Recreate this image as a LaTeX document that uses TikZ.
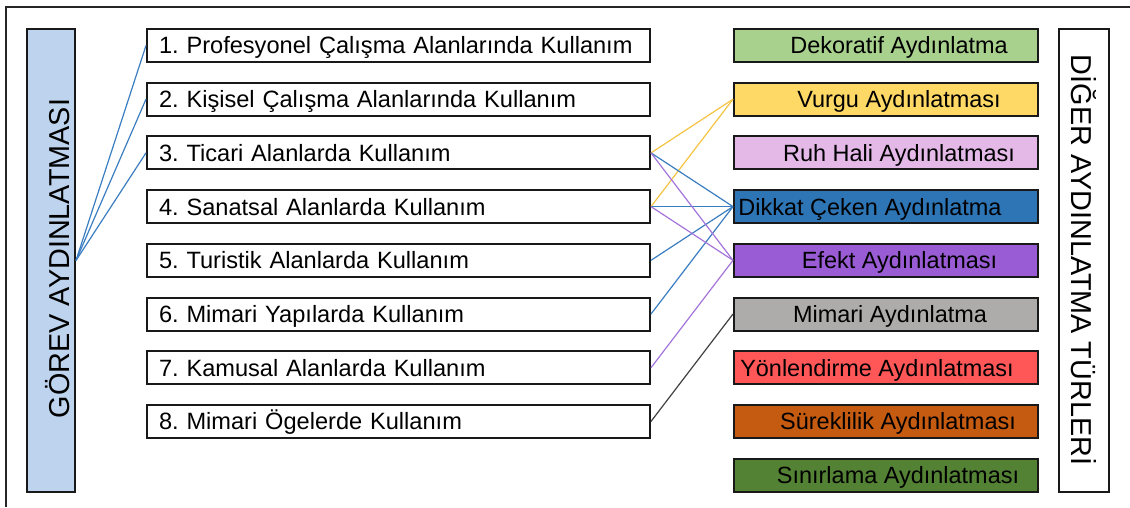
\documentclass[tikz,border=0pt]{standalone}
\usepackage{fontspec}
\setmainfont{Liberation Sans}
\usepackage{xcolor}
\usetikzlibrary{arrows.meta, positioning, calc}
\frenchspacing

\definecolor{gorevblue}{HTML}{BDD3EE}
\definecolor{dekorgreen}{HTML}{A9D18E}
\definecolor{vurguyellow}{HTML}{FFD966}
\definecolor{ruhpink}{HTML}{E4B9E8}
\definecolor{dikkatblue}{HTML}{2E75B6}
\definecolor{efektpurple}{HTML}{9A5CD4}
\definecolor{mimarigray}{HTML}{AEABAB}
\definecolor{yonred}{HTML}{FF5757}
\definecolor{surekorange}{HTML}{C55A11}
\definecolor{sinirgreen}{HTML}{548235}
\definecolor{lineblue}{HTML}{3A7DC0}
\definecolor{lineyellow}{HTML}{F5C342}
\definecolor{linepurple}{HTML}{A374DA}
\definecolor{linegray}{HTML}{404040}

\tikzset{
  boxline/.style={draw=black!90, line width=1.5pt},
  usebox/.style={boxline, minimum width=377.25pt, minimum height=24.75pt, inner xsep=9pt, inner ysep=0pt,
    text width=359.25pt, align=left, font=\fontsize{17.7}{20}\selectfont, text height=12.6pt, text depth=0pt},
  turbox/.style={boxline, minimum width=228pt, minimum height=24.75pt, inner sep=0pt},
  turtext/.style={inner sep=0pt, font=\fontsize{17.6}{20}\selectfont, text height=12.6pt, text depth=0pt},
  titlebox/.style={boxline, minimum width=36pt, minimum height=347.25pt, inner sep=0pt},
  titletext/.style={inner sep=0pt, font=\fontsize{21.6}{24}\selectfont, text height=15.5pt, text depth=0pt},
  link/.style={line width=0.9pt}
}

\begin{document}
\begin{tikzpicture}[x=0.75pt, y=-0.75pt]
\useasboundingbox (0,0) rectangle (1130,507);

% Frame
\draw[black!85, line width=1.5pt] (1130,7) -- (6,7) -- (6,507);

% Title boxes
\node[titlebox, fill=gorevblue] (gorev) at (51,260.5) {};
\node[titletext, rotate=90] (gorevlabel) at (59,258.5) {GÖREV AYDINLATMASI};
\node[titlebox, minimum width=37.5pt, fill=white] (diger) at (1084,260.5) {};
\node[titletext, rotate=-90] (digerlabel) at (1082,260) {DİĞER AYDINLATMA TÜRLERİ};

% Usage areas
\foreach \i/\txt in {1/{1. Profesyonel Çalışma Alanlarında Kullanım},
                     2/{2. Kişisel Çalışma Alanlarında Kullanım},
                     3/{3. Ticari Alanlarda Kullanım},
                     4/{4. Sanatsal Alanlarda Kullanım},
                     5/{5. Turistik Alanlarda Kullanım},
                     6/{6. Mimari Yapılarda Kullanım},
                     7/{7. Kamusal Alanlarda Kullanım},
                     8/{8. Mimari Ögelerde Kullanım}}
    \node[usebox] (u\i) at (398.5,{45.5+53.7*(\i-1)}) {\txt};

% Lighting types
\foreach \i/\col/\dx/\txt in {1/dekorgreen/13/{Dekoratif Aydınlatma},
                              2/vurguyellow/13/{Vurgu Aydınlatması},
                              3/ruhpink/13/{Ruh Hali Aydınlatması},
                              4/dikkatblue/-16/{Dikkat Çeken Aydınlatma},
                              5/efektpurple/13.5/{Efekt Aydınlatması},
                              6/mimarigray/4/{Mimari Aydınlatma},
                              7/yonred/-9/{Yönlendirme Aydınlatması},
                              8/surekorange/12/{Süreklilik Aydınlatması},
                              9/sinirgreen/12/{Sınırlama Aydınlatması}} {
    \node[turbox, fill=\col] (t\i) at (886,{45.5+53.7*(\i-1)}) {};
    \node[turtext] (tl\i) at ($(t\i.center)+(\dx,0)$) {\txt};
}

% Links
\foreach \j in {1,2,3}
    \draw[link, lineblue] (gorev.east) -- (u\j.west);
\foreach \j in {3,4}
    \draw[link, lineyellow] (u\j.east) -- (t2.west);
\foreach \j in {3,4,5,6}
    \draw[link, lineblue] (u\j.east) -- (t4.west);
\foreach \j in {3,4,7}
    \draw[link, linepurple] (u\j.east) -- (t5.west);
\draw[link, linegray] (u8.east) -- (t6.west);

\end{tikzpicture}
\end{document}
